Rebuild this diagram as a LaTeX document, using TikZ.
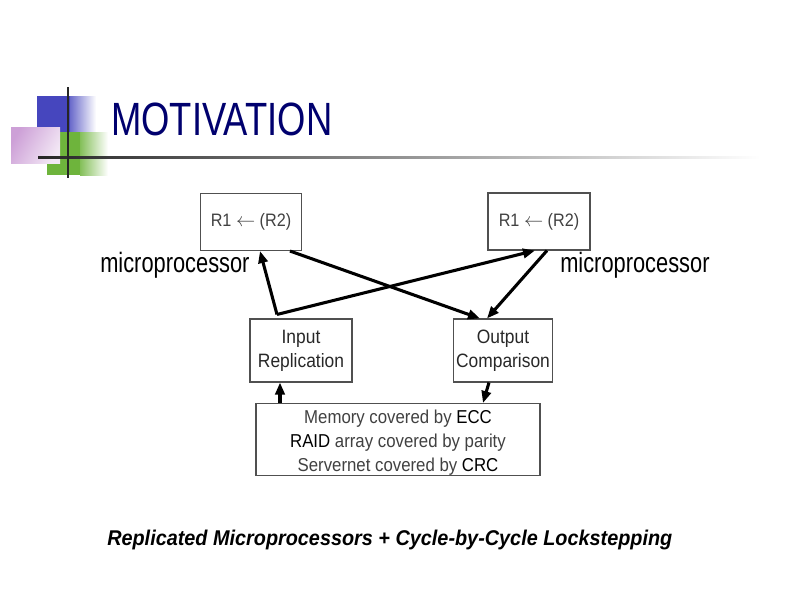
\documentclass[tikz,border=0pt]{standalone}
\usepackage{fontspec}
\setmainfont{Liberation Sans}[FakeStretch=0.78]
\newfontfamily\boxfont{Liberation Sans}[FakeStretch=0.9]
\newfontfamily\capfont{Liberation Sans}[FakeStretch=0.93]
\usetikzlibrary{calc,arrows.meta}
\definecolor{navy}{RGB}{0,0,110}
\definecolor{sqblue}{RGB}{70,70,190}
\definecolor{sqgreen}{RGB}{110,180,60}
\definecolor{sqpink}{RGB}{205,160,215}
\definecolor{boxline}{RGB}{80,80,80}
\definecolor{boxtext}{RGB}{65,65,65}
\definecolor{darktext}{RGB}{40,40,40}
\begin{document}
\begin{tikzpicture}[x=0.75pt,y=-0.75pt,
  boxnode/.style={draw=boxline,line width=0.8pt,inner sep=0pt,align=center,font=\boxfont\fontsize{13.5pt}{18pt}\selectfont,text=boxtext},
  arr/.style={line width=2.3pt,-{Triangle[length=9pt,width=7pt]}},
  label/.style={inner sep=0pt,anchor=base west,font=\fontsize{21pt}{24pt}\selectfont}
]
\useasboundingbox (0,0) rectangle (800,600);
\fill[white] (0,0) rectangle (800,600);
% decoration
\fill[sqblue] (37,96) rectangle (70,132);
\shade[left color=sqblue!80,right color=white] (70,96) rectangle (96,132);
\fill[sqgreen] (47,132) rectangle (80,175);
\shade[left color=sqgreen!85,right color=white] (80,132) rectangle (108,175);
\shade[left color=sqpink,right color=sqpink!25,shading angle=60] (11,127) rectangle (60,163);
\shade[left color=black!85,right color=white] (38,156) rectangle (760,158.5);
\draw[black!85,line width=1.5pt] (68,87) -- (68,178);
% title
\node[inner sep=0pt,anchor=base west,text=navy,font=\fontsize{35pt}{40pt}\selectfont] (title) at (111,135) {MOTIVATION};
% boxes
\node[boxnode,minimum width=75.75pt,minimum height=42.75pt] (L) at (251,222) {R1 $\leftarrow$ (R2)};
\node[boxnode,minimum width=76.5pt,minimum height=42.75pt] (R) at (539,221.5) {R1 $\leftarrow$ (R2)};
\node[boxnode,minimum width=76.5pt,minimum height=47.25pt,text=darktext,font=\boxfont\fontsize{14.5pt}{18pt}\selectfont] (In) at (301,350.5) {Input\\Replication};
\node[boxnode,minimum width=74.25pt,minimum height=47.25pt,text=darktext,font=\boxfont\fontsize{14.5pt}{18pt}\selectfont] (Out) at (503,350.5) {Output\\Comparison};
\node[boxnode,minimum width=213pt,minimum height=53.25pt,font=\boxfont\fontsize{14pt}{18pt}\selectfont] (Bot) at (398,439.5) {\rule{0pt}{15pt}Memory covered by \textcolor{black}{ECC}\\\textcolor{black}{RAID} array covered by parity\\Servernet covered by \textcolor{black}{CRC}};
% labels
\node[label] (mpL) at (100,272) {microprocessor};
\node[label] (mpR) at (560,272) {microprocessor};
\node[inner sep=0pt,anchor=base west,font=\capfont\bfseries\itshape\fontsize{16pt}{20pt}\selectfont] (cap) at (107,545) {Replicated Microprocessors + Cycle-by-Cycle Lockstepping};
% connectors
\coordinate (J) at ($(In.north)+(-24,-4)$);
\draw[arr] (J) -- ($(L.south)+(9,0)$);
\draw[arr] (J) -- ($(R.south)+(-4,0)$);
\draw[arr] ($(L.south)+(39,0)$) -- ($(Out.north)+(-23,0)$);
\draw[arr] ($(R.south)+(8,0)$) -- ($(Out.north)+(-16,0)$);
\draw[arr] ($(Bot.north)+(-118,0)$) -- ($(In.south)+(-21,0)$);
\draw[arr] ($(Out.south)+(-14,0)$) -- ($(Bot.north)+(85,0)$);
\end{tikzpicture}
\end{document}
